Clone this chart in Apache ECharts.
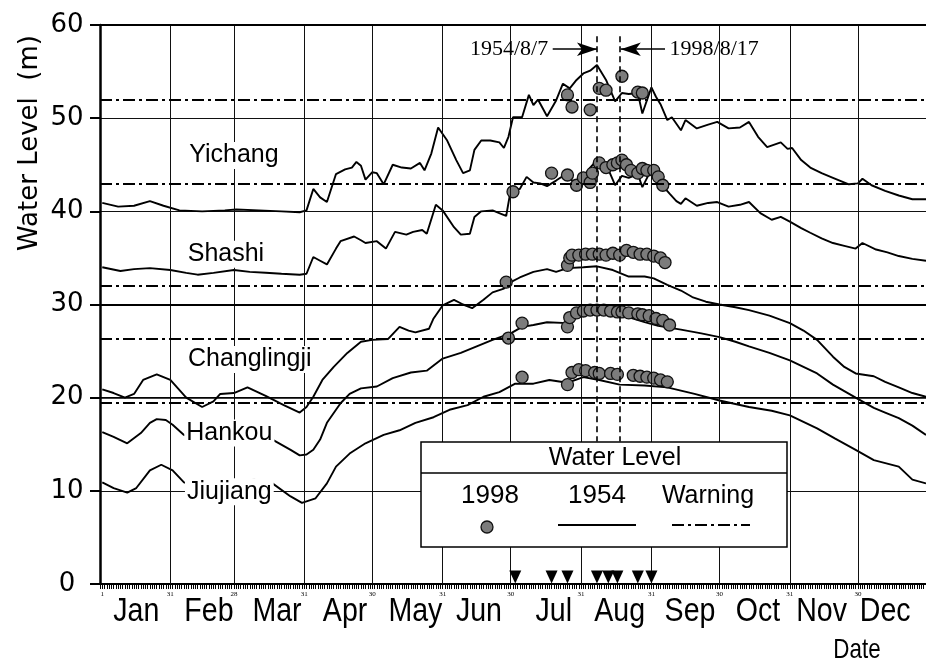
<!DOCTYPE html>
<html><head><meta charset="utf-8">
<script src="https://cdn.jsdelivr.net/npm/echarts@6/dist/echarts.min.js"></script>
<style>html,body{margin:0;padding:0;background:#fff}#c{width:926px;height:667px}</style>
</head><body><div id="c"></div>
<script>
// ---------- axes / ticks ----------
const monthEndDays = [31,59,90,120,151,181,212,243,273,304,334];
const monthEndTickDays = [1,31,59,90,120,151,181,212,243,273,304,334];
const monthEndTickLabels = ['1','31','28','31','30','31','30','31','31','30','31','30'];
const monthNames = ['Jan','Feb','Mar','Apr','May','Jun','Jul','Aug','Sep','Oct','Nov','Dec'];
const monthNameDays = [16,48,78,108,139,167,200,229,260,290,318,346];
const yTicks = [0,10,20,30,40,50,60];

// ---------- stations ----------
const stationNames = ['Yichang','Shashi','Changlingji','Hankou','Jiujiang'];
const warningLevels = [52.0, 43.0, 32.0, 26.3, 19.5];
const stationLabelDays = [59, 55.5, 66, 57, 57];
const stationLabelLevels = [46.0, 35.4, 24.1, 16.2, 9.9];

// ---------- 1954 water level (day of year, m) ----------
const yichangDays = [1,8,15,22,28,35,45,55,60,70,80,88,91,94,97,100,104,108,111,113,115,117,120,122,125,129,133,137,141,143,146,149,153,157,160,163,165,168,172,176,178,180,182,186,189,191,193,197,201,204,207,210,213,216,219,223,227,230,233,237,239,243,245,247,250,252,256,258,263,268,272,277,282,286,290,294,300,303,305,309,313,318,323,330,334,336,340,346,352,358,364];
const yichang1954 = [40.9,40.5,40.6,41.1,40.6,40.1,40.0,40.1,40.2,40.1,40.0,39.9,40.1,42.4,41.5,41.0,44.0,44.5,44.7,45.3,44.9,43.4,44.2,44.1,42.9,45.0,44.7,44.6,45.2,44.4,46.2,49.0,47.6,45.5,44.1,44.4,46.6,47.6,47.6,47.4,46.8,48.0,50.1,50.1,52.5,51.4,52.0,50.2,51.9,53.7,53.2,54.1,54.8,55.1,55.7,54.1,51.8,52.7,52.6,52.7,50.5,53.3,52.3,51.5,49.8,50.1,48.7,49.8,48.9,49.3,49.6,48.9,49.0,49.6,48.0,46.9,47.4,46.7,46.8,45.5,44.7,44.1,43.6,42.9,43.0,43.5,42.8,42.2,41.7,41.3,41.3];

const shashiDays = [1,9,15,22,31,38,43,50,59,66,73,80,88,91,94,97,100,104,106,112,115,117,122,126,130,135,138,142,144,148,151,156,159,163,165,168,173,177,179,181,185,188,191,194,197,201,204,207,210,213,216,219,222,224,227,230,233,237,239,243,247,251,254,256,258,263,268,272,277,282,286,291,296,300,304,309,313,318,323,328,333,336,342,347,352,358,364];
const shashi1954 = [34.0,33.6,33.8,33.9,33.7,33.4,33.2,33.4,33.7,33.5,33.4,33.3,33.2,33.3,35.1,34.7,34.3,36.0,36.8,37.3,36.9,36.6,36.8,36.0,37.8,37.5,37.8,38.0,37.6,40.7,40.1,38.3,37.5,37.6,39.4,40.0,40.1,39.7,39.5,42.3,42.4,43.7,43.1,43.0,42.7,43.3,43.8,43.5,43.0,43.5,44.7,45.5,45.0,44.5,42.8,43.8,43.6,44.0,42.6,44.5,43.0,41.9,41.1,40.8,41.4,40.6,40.9,41.0,40.5,40.7,41.0,39.8,39.1,39.4,38.9,38.2,37.7,37.1,36.6,36.3,36.0,36.6,35.9,35.6,35.2,34.9,34.7];

const changlingjiDays = [1,6,11,15,19,25,31,38,45,50,53,59,65,73,81,88,91,94,98,103,109,115,120,127,132,136,139,145,147,151,156,160,164,169,173,178,181,185,191,197,201,206,213,219,226,233,240,244,250,256,261,267,273,280,286,295,304,310,316,323,328,333,341,346,352,358,364];
const changlingji1954 = [20.9,20.5,20.0,20.4,21.9,22.5,21.9,20.0,19.0,19.6,20.4,20.5,21.1,20.2,19.2,18.4,19.0,20.1,21.9,23.3,24.8,26.0,26.2,26.3,27.6,27.2,27.0,27.4,28.5,29.9,30.5,30.0,29.6,30.5,31.3,31.7,32.4,32.9,33.5,33.8,33.5,33.9,34.0,34.1,33.7,33.0,33.0,32.8,32.1,31.5,30.8,30.3,30.0,29.7,29.4,28.8,28.0,27.2,26.2,24.4,23.3,22.6,22.3,21.7,21.1,20.5,20.1];

const hankouDays = [1,6,12,18,22,25,29,32,37,45,53,60,68,76,84,88,91,94,97,100,106,110,115,122,129,137,144,151,159,166,173,181,186,191,197,206,211,216,220,225,229,235,240,246,256,265,273,280,286,295,304,310,316,323,328,333,341,346,352,358,364];
const hankou1954 = [16.3,15.8,15.1,16.2,17.3,17.7,17.6,17.1,16.0,15.3,15.6,16.0,16.0,15.5,14.4,13.8,13.9,14.4,15.5,17.3,19.4,20.4,21.0,21.2,22.1,22.7,22.9,24.2,24.8,25.5,26.2,26.9,27.6,27.8,28.1,28.0,29.0,29.1,29.1,29.0,28.9,28.5,28.1,27.7,27.3,26.9,26.5,26.0,25.5,24.8,24.0,23.3,22.6,21.4,20.7,20.0,18.9,18.4,17.8,17.0,16.0];

const jiujiangDays = [1,6,12,16,22,27,32,37,45,53,60,68,76,84,89,95,100,104,110,117,125,132,139,147,154,162,169,176,183,191,198,206,213,220,229,240,250,262,273,286,296,304,310,316,324,333,341,352,358,364];
const jiujiang1954 = [10.9,10.3,9.8,10.3,12.2,12.8,12.2,10.9,10.3,10.5,11.0,11.2,10.8,9.4,8.7,9.2,10.8,12.6,14.0,15.1,16.0,16.5,17.3,17.9,18.7,19.2,20.1,20.6,21.5,21.5,21.9,21.6,22.2,21.9,21.4,21.3,21.1,20.4,19.7,19.0,18.6,18.1,17.4,16.7,15.6,14.4,13.3,12.6,11.2,10.8];

// ---------- 1998 water level (dots) ----------
const yichang98Days = [206,208,216,220,223,230,237,239];
const yichang1998 = [52.5,51.2,50.9,53.2,53.0,54.5,52.8,52.7];
const shashi98Days = [182,199,206,210,213,216,217,220,223,226,228,230,232,234,237,239,241,244,246,248];
const shashi1998 = [42.1,44.1,43.9,42.8,43.6,43.1,44.1,45.2,44.7,45.0,45.2,45.5,45.0,44.4,44.1,44.6,44.4,44.4,43.7,42.8];
const changlingji98Days = [179,206,207,208,211,214,217,220,223,226,229,232,235,238,241,244,247,249];
const changlingji1998 = [32.4,34.2,35.0,35.3,35.3,35.4,35.4,35.4,35.3,35.5,35.3,35.8,35.6,35.4,35.4,35.2,35.0,34.5];
const hankou98Days = [180,186,206,207,210,213,216,219,222,225,228,230,233,237,239,242,245,248,251];
const hankou1998 = [26.4,28.0,27.6,28.6,29.1,29.3,29.4,29.4,29.4,29.3,29.2,29.2,29.1,29.0,28.9,28.8,28.5,28.3,27.8];
const jiujiang98Days = [186,206,208,211,214,218,220,225,228,235,238,241,244,247,250];
const jiujiang1998 = [22.2,21.4,22.7,23.0,22.9,22.7,22.6,22.6,22.5,22.4,22.3,22.2,22.1,21.9,21.7];

// ---------- annotations ----------
const peakDates = [219, 229];           // 1954/8/7 and 1998/8/17
const peakLabels = ['1954/8/7', '1998/8/17'];
const floodDays = [183,199,206,219,224,228,237,243];

// ---------- build ----------
const pair = (xs, ys) => xs.map((d, i) => [d, ys[i]]);
const lines1954 = [
  pair(yichangDays, yichang1954), pair(shashiDays, shashi1954),
  pair(changlingjiDays, changlingji1954), pair(hankouDays, hankou1954),
  pair(jiujiangDays, jiujiang1954)
];
const dots1998 = [
  pair(yichang98Days, yichang1998), pair(shashi98Days, shashi1998),
  pair(changlingji98Days, changlingji1998), pair(hankou98Days, hankou1998),
  pair(jiujiang98Days, jiujiang1998)
];

const SANS = '"Liberation Sans", Arial, sans-serif';
const SERIF = '"Liberation Serif", "Times New Roman", serif';
const dashDot = [12, 4, 3, 4];
const arrowLevel = 57.4;
const dashTop = 58.8, dashBottom = 15.3;
const triLevel = 0.75;
const DOT = {color: '#7c7c7c', borderColor: '#111', borderWidth: 1.3, opacity: 1};

const series = [];

// month-end vertical grid lines + heavier horizontal lines
series.push({
  type: 'line', data: [], silent: true, z: 1,
  markLine: {
    silent: true, symbol: 'none', label: {show: false}, animation: false,
    lineStyle: {color: '#111', width: 1, type: 'solid', opacity: 1},
    data: monthEndDays.map(d => ({xAxis: d})).concat([
      {yAxis: 60, lineStyle: {width: 2.2, color: '#000', type: 'solid'}},
      {yAxis: 30, lineStyle: {width: 2, color: '#000', type: 'solid'}},
      {yAxis: 20, lineStyle: {width: 1.5, color: '#000', type: 'solid'}}
    ])
  }
});
// warning levels + peak-date dashed verticals
series.push({
  type: 'line', data: [], silent: true, z: 2,
  markLine: {
    silent: true, symbol: 'none', label: {show: false}, animation: false,
    lineStyle: {color: '#000', width: 2, type: dashDot, opacity: 1},
    data: warningLevels.map(v => ({yAxis: v})).concat(
      peakDates.map(d => [{coord: [d, dashTop], lineStyle: {type: [6, 4], width: 1.6, color: '#000'}}, {coord: [d, dashBottom]}])
    )
  }
});
// 1954 lines
lines1954.forEach((data, i) => series.push({
  name: stationNames[i] + ' 1954', type: 'line', data, symbol: 'none', z: 3,
  lineStyle: {color: '#000', width: 1.9, opacity: 1}, silent: true
}));
// 1998 dots
dots1998.forEach((data, i) => series.push({
  name: stationNames[i] + ' 1998', type: 'scatter', data, symbol: 'circle', symbolSize: 12, z: 4,
  itemStyle: DOT, silent: true
}));
// station labels
series.push({
  type: 'scatter', symbolSize: 0, z: 6, silent: true, itemStyle: {opacity: 1},
  data: stationNames.map((n, i) => [stationLabelDays[i], stationLabelLevels[i], n]),
  label: {show: true, position: 'inside', formatter: p => p.data[2], color: '#000', opacity: 1,
    fontFamily: SANS, fontSize: 25, backgroundColor: '#fff', padding: [1, 2]}
});
// peak-date annotations and arrows
series.push({
  type: 'scatter', symbolSize: 0, z: 6, silent: true, itemStyle: {opacity: 1},
  data: [
    {value: [197.5, arrowLevel, peakLabels[0]], label: {align: 'right'}},
    {value: [251, arrowLevel, peakLabels[1]], label: {align: 'left'}}
  ],
  label: {show: true, position: 'inside', formatter: p => p.data.value[2], color: '#000', opacity: 1,
    fontFamily: SERIF, fontSize: 22},
  markLine: {
    silent: true, animation: false, label: {show: false}, symbol: ['none', 'arrow'], symbolSize: [10, 20],
    lineStyle: {color: '#000', width: 1.5, type: 'solid', opacity: 1},
    itemStyle: {color: '#000'},
    data: [
      [{coord: [199.5, arrowLevel]}, {coord: [peakDates[0], arrowLevel]}],
      [{coord: [249, arrowLevel]}, {coord: [peakDates[1] + 0.5, arrowLevel]}]
    ]
  }
});
// flood triangles
series.push({
  type: 'scatter', symbol: 'triangle', symbolRotate: 180, symbolSize: [12, 13], z: 5, silent: true,
  data: floodDays.map(d => [d, triLevel]), itemStyle: {color: '#000', opacity: 1}
});

const staticGraphics = [
  {type: 'text', z: 100, x: 30, y: 143, rotation: Math.PI / 2,
    style: {text: 'Water Level  (m)', font: '26px "DejaVu Sans", sans-serif', fill: '#000', align: 'center', verticalAlign: 'middle'}},
  {type: 'text', z: 100, x: 857, y: 650, scaleX: 0.8,
    style: {text: 'Date', font: '28px ' + SANS, fill: '#000', align: 'center', verticalAlign: 'middle'}},
  {type: 'rect', z: 100, shape: {x: 421, y: 442, width: 366, height: 105},
    style: {fill: '#fff', stroke: '#000', lineWidth: 1.5}},
  {type: 'line', z: 101, shape: {x1: 421, y1: 473, x2: 787, y2: 473}, style: {stroke: '#000', lineWidth: 1.5}},
  {type: 'text', z: 101, x: 615, y: 458,
    style: {text: 'Water Level', font: '25px ' + SANS, fill: '#000', align: 'center', verticalAlign: 'middle'}},
  {type: 'text', z: 101, x: 490, y: 496,
    style: {text: '1998', font: '26px ' + SANS, fill: '#000', align: 'center', verticalAlign: 'middle'}},
  {type: 'text', z: 101, x: 597, y: 496,
    style: {text: '1954', font: '26px ' + SANS, fill: '#000', align: 'center', verticalAlign: 'middle'}},
  {type: 'text', z: 101, x: 708, y: 496,
    style: {text: 'Warning', font: '25px ' + SANS, fill: '#000', align: 'center', verticalAlign: 'middle'}},
  {type: 'circle', z: 101, shape: {cx: 487, cy: 527, r: 6}, style: {fill: DOT.color, stroke: DOT.borderColor, lineWidth: 1.3}},
  {type: 'line', z: 101, shape: {x1: 558, y1: 525, x2: 636, y2: 525}, style: {stroke: '#000', lineWidth: 1.9}},
  {type: 'line', z: 101, shape: {x1: 672, y1: 525, x2: 750, y2: 525}, style: {stroke: '#000', lineWidth: 2, lineDash: dashDot}}
];

const option = {
  animation: false,
  backgroundColor: '#fff',
  grid: {left: 100, right: 0, top: 25, bottom: 83, containLabel: false},
  xAxis: {
    type: 'value', min: 0, max: 364, interval: 1, position: 'bottom',
    axisLine: {show: true, onZero: false, lineStyle: {color: '#000', width: 2}},
    axisTick: {show: true, inside: false, length: 5, lineStyle: {color: '#000', width: 1}},
    axisLabel: {show: true, customValues: monthEndTickDays, margin: 7,
      formatter: v => monthEndTickLabels[monthEndTickDays.indexOf(v)] || '',
      fontFamily: SERIF, fontSize: 7, color: '#000'},
    splitLine: {show: false}, minorTick: {show: false}
  },
  yAxis: {
    type: 'value', min: 0, max: 60, interval: 10,
    axisLine: {show: true, lineStyle: {color: '#000', width: 2.5}},
    axisTick: {show: true, inside: false, length: 10, lineStyle: {color: '#000', width: 2}},
    axisLabel: {show: true, margin: 33, align: 'center', fontFamily: '"DejaVu Sans", sans-serif', fontSize: 26, color: '#000',
      formatter: v => yTicks.indexOf(v) >= 0 ? String(v) : ''},
    splitLine: {show: true, lineStyle: {color: '#111', width: 1}}
  },
  graphic: {elements: staticGraphics},
  series
};

const chart = echarts.init(document.getElementById('c'), null, {renderer: 'canvas'});
chart.setOption(option);

// month names: placed through the x axis scale, drawn condensed
const monthY = 612;
const monthGraphics = monthNames.map((m, i) => ({
  type: 'text', z: 100, x: chart.convertToPixel({xAxisIndex: 0}, monthNameDays[i]), y: monthY, scaleX: 0.84,
  style: {text: m, font: '34px ' + SANS, fill: '#000', align: 'center', verticalAlign: 'middle'}
}));
chart.setOption({graphic: {elements: staticGraphics.concat(monthGraphics)}}, {replaceMerge: ['graphic']});
</script>
</body></html>
